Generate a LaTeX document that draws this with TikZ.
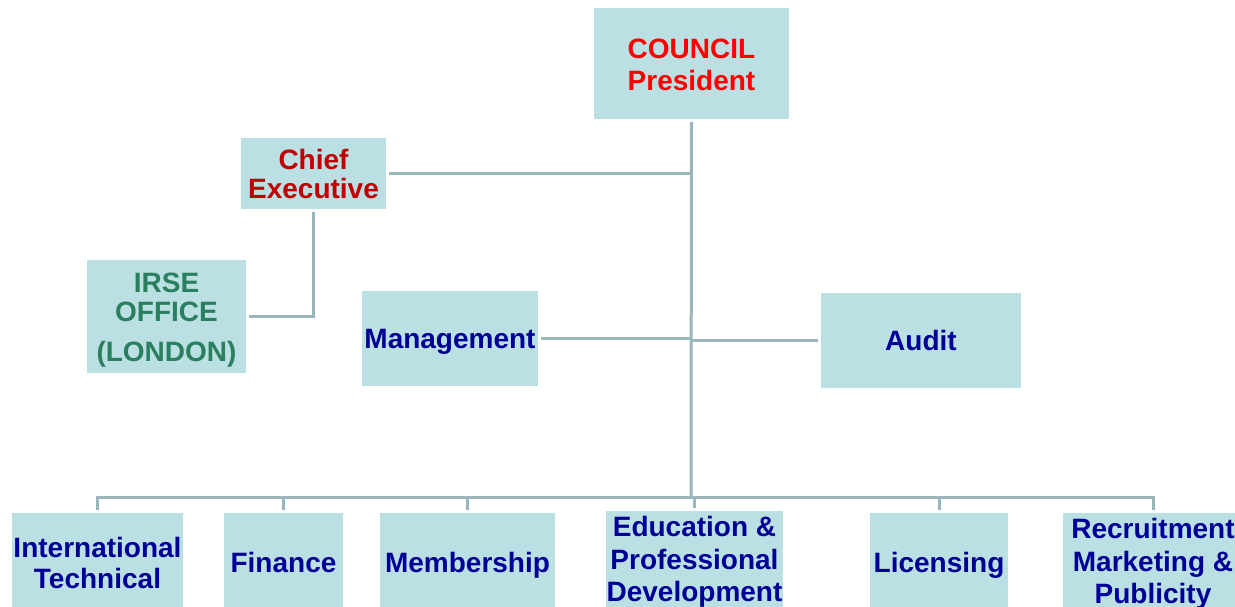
\documentclass[tikz,border=0pt]{standalone}
\usepackage{fontspec}
\setmainfont{Liberation Sans}
\definecolor{boxfill}{HTML}{BBE0E3}
\definecolor{linec}{HTML}{9BB6BA}
\definecolor{cred}{HTML}{FF0000}
\definecolor{cdred}{HTML}{C00000}
\definecolor{cgreen}{HTML}{2A7F5F}
\definecolor{cblue}{HTML}{000096}
\tikzset{
  box/.style={fill=boxfill, draw=none, inner sep=0pt, outer sep=3pt, align=center,
    font=\fontsize{28}{32}\selectfont\bfseries},
  one/.style={text height=20pt, text depth=0pt},
  conn/.style={draw=linec, line width=3pt},
}
\begin{document}
\begin{tikzpicture}[x=1pt,y=-1pt]
\useasboundingbox (0,0) rectangle (1235,607);
\clip (0,0) rectangle (1235,607);
\node[box, text=cred, minimum width=195, minimum height=111] (council) at (691.5,63.5) {\rule{0pt}{22pt}COUNCIL\\President};
\node[box, text=cdred, minimum width=145, minimum height=71, font=\fontsize{28}{29}\selectfont\bfseries] (chief) at (313.5,173.5) {Chief\\Executive};
\node[box, text=cgreen, minimum width=159, minimum height=113, font=\fontsize{28}{29}\selectfont\bfseries] (irse) at (166.5,316.5) {\rule{0pt}{26pt}IRSE\\OFFICE\\[11pt](LONDON)};
\node[box, one, text=cblue, minimum width=176, minimum height=95] (mgmt) at (450,338.5) {Management};
\node[box, one, text=cblue, minimum width=200, minimum height=95] (audit) at (921,340.5) {Audit};
\node[box, text=cblue, minimum width=171, minimum height=99, font=\fontsize{28}{31}\selectfont\bfseries] (intl) at (97.5,562.5) {International\\Technical};
\node[box, one, text=cblue, minimum width=119, minimum height=98] (fin) at (283.5,562) {Finance};
\node[box, one, text=cblue, minimum width=175, minimum height=98] (mem) at (467.5,562) {Membership};
\node[box, text=cblue, minimum width=177, minimum height=98, font=\fontsize{28}{32.5}\selectfont\bfseries] (edu) at (694.5,560) {\rule{0pt}{24.5pt}Education \&\\Professional\\Development};
\node[box, one, text=cblue, minimum width=138, minimum height=98] (lic) at (939,562) {Licensing};
\node[box, text=cblue, minimum width=180, minimum height=98, font=\fontsize{28}{32.5}\selectfont\bfseries] (rec) at (1153,562) {\rule{0pt}{24.5pt}Recruitment\\Marketing \&\\Publicity};
\coordinate (bus) at (691,497);
\draw[conn] (council.south) -- (bus);
\draw[conn] (chief.east) -- (chief.east -| council.south);
\draw[conn] (chief.south) |- (irse.east);
\draw[conn] (mgmt.east) -- (mgmt.east -| council.south);
\draw[conn] (audit.west) -- (audit.west -| council.south);
\draw[conn] (intl.north) -- (intl.north |- bus) -- (rec.north |- bus) -- (rec.north);
\draw[conn] (fin.north) -- (fin.north |- bus);
\draw[conn] (mem.north) -- (mem.north |- bus);
\draw[conn] (edu.north) -- (edu.north |- bus);
\draw[conn] (lic.north) -- (lic.north |- bus);
\end{tikzpicture}
\end{document}
